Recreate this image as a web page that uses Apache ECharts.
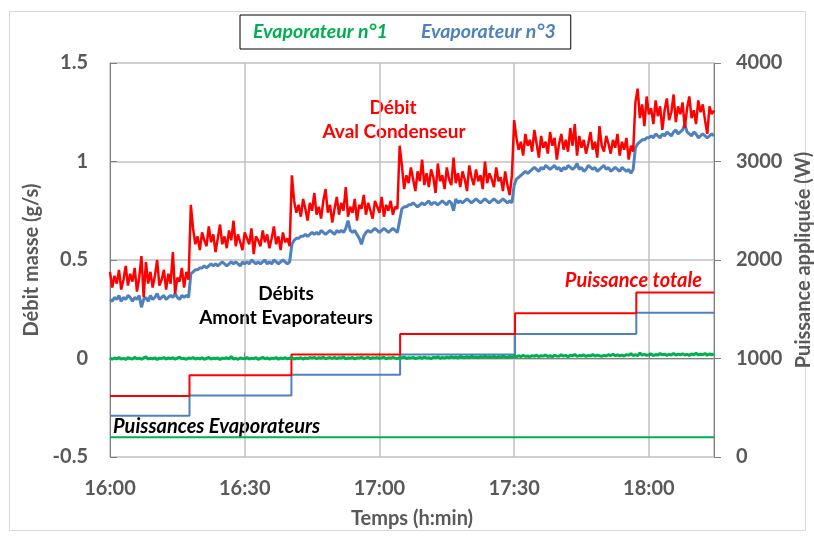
<!DOCTYPE html>
<html>
<head>
<meta charset="utf-8">
<script src="https://cdn.jsdelivr.net/npm/echarts@6/dist/echarts.min.js"></script>
<style>
  html, body { margin: 0; padding: 0; background: #fff; }
  #chart { width: 814px; height: 539px; }
</style>
</head>
<body>
<div id="chart"></div>
<script>
// Logger start and sampling period (minutes)
const startHour = 16;
const sampleStep = 0.5;

// Débit aval condenseur (g/s)
const flowCondenser = [
  0.44, 0.36, 0.42, 0.38, 0.45, 0.35, 0.40, 0.47, 0.37, 0.43,
  0.39, 0.46, 0.34, 0.41, 0.52, 0.31, 0.49, 0.38, 0.44, 0.36,
  0.42, 0.50, 0.37, 0.40, 0.45, 0.35, 0.43, 0.38, 0.54, 0.33,
  0.41, 0.39, 0.46, 0.36, 0.44, 0.40,
  0.78, 0.66, 0.58, 0.62, 0.55, 0.64, 0.60, 0.57, 0.67, 0.59,
  0.63, 0.54, 0.61, 0.68, 0.58, 0.62, 0.56, 0.65, 0.60, 0.70,
  0.57, 0.63, 0.59, 0.55, 0.64, 0.61, 0.58, 0.66, 0.53, 0.62,
  0.60, 0.57, 0.65, 0.59, 0.63, 0.56, 0.61, 0.67, 0.58, 0.62,
  0.55, 0.64, 0.59, 0.61, 0.57,
  0.93, 0.80, 0.74, 0.78, 0.72, 0.81, 0.76, 0.70, 0.79, 0.75,
  0.84, 0.73, 0.77, 0.71, 0.80, 0.86, 0.74, 0.78, 0.69, 0.76,
  0.82, 0.73, 0.79, 0.75, 0.87, 0.72, 0.77, 0.74, 0.81, 0.70,
  0.78, 0.76, 0.83, 0.73, 0.79, 0.75, 0.71, 0.80, 0.77, 0.74,
  0.82, 0.72, 0.78, 0.75, 0.80, 0.73, 0.77, 0.76,
  1.08, 0.98, 0.86, 0.93, 0.89, 0.97, 0.91, 0.85, 0.95, 0.90,
  1.01, 0.88, 0.94, 0.87, 0.96, 0.92, 0.84, 0.99, 0.90, 0.93,
  0.86, 0.97, 0.91, 0.88, 1.02, 0.89, 0.94, 0.87, 0.95, 0.91,
  0.85, 0.98, 0.92, 0.88, 0.96, 0.90, 0.93, 0.86, 1.00, 0.89,
  0.94, 0.91, 0.87, 0.97, 0.90, 0.92, 0.85, 0.95, 0.88, 0.83,
  0.93,
  1.21, 1.12, 1.06, 1.10, 1.03, 1.14, 1.08, 1.11, 1.05, 1.16,
  1.09, 1.02, 1.13, 1.07, 1.10, 1.04, 1.15, 1.08, 1.12, 1.01,
  1.09, 1.14, 1.06, 1.11, 1.05, 1.17, 1.08, 1.19, 1.03, 1.13,
  1.07, 1.11, 1.04, 1.09, 1.15, 1.06, 1.10, 1.02, 1.18, 1.08,
  1.05, 1.13, 1.09, 1.04, 1.11, 1.07, 1.14, 1.03, 1.10, 1.06,
  1.12, 1.01, 1.08, 1.05,
  1.30, 1.37, 1.22, 1.29, 1.18, 1.33, 1.24, 1.27, 1.19, 1.31,
  1.23, 1.28, 1.16, 1.26, 1.32, 1.21, 1.25, 1.34, 1.20, 1.28,
  1.24, 1.30, 1.17, 1.27, 1.33, 1.22, 1.26, 1.19, 1.31, 1.25,
  1.29, 1.21, 1.14, 1.28, 1.24, 1.26
];

// Débit amont évaporateur n°3 (g/s)
const flowEvap3 = [
  0.30, 0.29, 0.31, 0.30, 0.32, 0.29, 0.31, 0.30, 0.32, 0.31,
  0.29, 0.31, 0.30, 0.32, 0.26, 0.30, 0.31, 0.29, 0.32, 0.30,
  0.31, 0.33, 0.30, 0.31, 0.32, 0.30, 0.31, 0.32, 0.31, 0.33,
  0.31, 0.30, 0.32, 0.31, 0.32, 0.31,
  0.43, 0.44, 0.45, 0.45, 0.46, 0.46, 0.47, 0.46, 0.47, 0.48,
  0.47, 0.48, 0.47, 0.48, 0.49, 0.48, 0.47, 0.48, 0.49, 0.48,
  0.49, 0.48, 0.47, 0.49, 0.48, 0.49, 0.48, 0.50, 0.49, 0.48,
  0.49, 0.48, 0.49, 0.50, 0.48, 0.49, 0.48, 0.50, 0.49, 0.48,
  0.49, 0.50, 0.49, 0.48, 0.49,
  0.58, 0.60, 0.61, 0.61, 0.62, 0.62, 0.63, 0.62, 0.63, 0.64,
  0.63, 0.64, 0.63, 0.65, 0.64, 0.63, 0.64, 0.65, 0.64, 0.63,
  0.65, 0.64, 0.65, 0.64, 0.66, 0.70, 0.65, 0.64, 0.65, 0.63,
  0.61, 0.58, 0.62, 0.64, 0.65, 0.64, 0.65, 0.66, 0.65, 0.64,
  0.65, 0.66, 0.65, 0.64, 0.65, 0.66, 0.65, 0.64,
  0.70, 0.76, 0.77, 0.77, 0.78, 0.78, 0.79, 0.78, 0.77, 0.78,
  0.79, 0.78, 0.79, 0.80, 0.78, 0.79, 0.79, 0.78, 0.79, 0.80,
  0.79, 0.78, 0.80, 0.79, 0.75, 0.81, 0.79, 0.80, 0.79, 0.80,
  0.81, 0.80, 0.79, 0.80, 0.81, 0.80, 0.79, 0.80, 0.81, 0.80,
  0.79, 0.80, 0.81, 0.80, 0.79, 0.80, 0.81, 0.80, 0.79, 0.80,
  0.79,
  0.88, 0.91, 0.92, 0.93, 0.94, 0.95, 0.94, 0.95, 0.96, 0.97,
  0.96, 0.95, 0.97, 0.96, 0.98, 0.97, 0.96, 0.97, 0.98, 0.96,
  0.97, 0.95, 0.97, 0.96, 0.98, 0.97, 0.96, 0.97, 0.99, 0.96,
  0.97, 0.95, 0.96, 0.98, 0.97, 0.96, 0.97, 0.95, 0.96, 0.97,
  0.98, 0.96, 0.97, 0.95, 0.96, 0.97, 0.96, 0.95, 0.97, 0.96,
  0.95, 0.96, 0.94, 0.96,
  1.07, 1.09, 1.10, 1.11, 1.11, 1.12, 1.12, 1.13, 1.12, 1.14,
  1.13, 1.12, 1.14, 1.13, 1.15, 1.14, 1.13, 1.15, 1.16, 1.14,
  1.15, 1.16, 1.19, 1.15, 1.14, 1.13, 1.15, 1.14, 1.12, 1.13,
  1.14, 1.13, 1.12, 1.13, 1.14, 1.13
];

// Débit amont évaporateur n°1 (g/s)
const flowEvap1 = [
  0.002, -0.004, 0.003, -0.002, 0.005, -0.003, 0.001, -0.005, 0.004, 0.000,
  -0.003, 0.006, -0.002, 0.002, -0.004, 0.003, 0.009, -0.003, 0.001, -0.002,
  0.004, -0.005, 0.002, 0.000, 0.005, -0.003, 0.003, -0.001, 0.004, -0.004,
  0.002, 0.007, -0.002, 0.001, -0.004, 0.003, 0.000, 0.005, -0.003, 0.002,
  -0.002, 0.004, -0.004, 0.001, 0.006, -0.003, 0.002, -0.001, 0.003, -0.005,
  0.002, 0.000, 0.004, -0.002, 0.010, -0.003, 0.001, -0.004, 0.003, 0.000,
  -0.002, 0.005, -0.003, 0.002, -0.001, 0.004, -0.004, 0.001, 0.006, -0.002,
  0.003, -0.003, 0.002, 0.000, 0.005, -0.004, 0.003, -0.001, 0.004, -0.002,
  0.001, 0.006, -0.003, 0.002, 0.000, 0.004, -0.003, 0.003, -0.001, 0.005,
  0.002, 0.006, -0.001, 0.004, 0.001, 0.007, -0.002, 0.003, 0.005, 0.000,
  0.006, -0.001, 0.004, 0.002, 0.008, -0.002, 0.003, 0.001, 0.005, -0.003,
  0.004, 0.002, 0.007, 0.000, 0.003, 0.006, -0.001, 0.004, 0.002, 0.005,
  0.000, 0.003, 0.007, -0.002, 0.004, 0.001, 0.006, 0.002, -0.001, 0.005,
  0.003, 0.008, 0.000, 0.004, 0.002, 0.006, -0.001, 0.003, 0.005, 0.001,
  0.007, 0.002, 0.004, -0.001, 0.006, 0.003, 0.009, 0.001, 0.005, 0.002,
  0.007, 0.003, 0.010, 0.004, 0.008, 0.002, 0.011, 0.006, 0.004, 0.009,
  0.003, 0.012, 0.005, 0.008, 0.004, 0.010, 0.006, 0.013, 0.005, 0.009,
  0.007, 0.011, 0.004, 0.010, 0.006, 0.012, 0.008, 0.005, 0.011, 0.007,
  0.012, 0.008, 0.014, 0.009, 0.016, 0.010, 0.013, 0.007, 0.015, 0.011,
  0.017, 0.009, 0.014, 0.012, 0.018, 0.010, 0.015, 0.008, 0.016, 0.013,
  0.011, 0.019, 0.012, 0.016, 0.009, 0.017, 0.013, 0.021, 0.011, 0.015,
  0.014, 0.018, 0.010, 0.016, 0.013, 0.020, 0.012, 0.017, 0.014, 0.011,
  0.016, 0.013, 0.019, 0.015, 0.022, 0.013, 0.018, 0.014, 0.017, 0.012,
  0.020, 0.016, 0.024, 0.015, 0.019, 0.014, 0.028, 0.017, 0.021, 0.016,
  0.019, 0.023, 0.015, 0.020, 0.017, 0.025, 0.018, 0.022, 0.016, 0.021,
  0.018, 0.026, 0.017, 0.022, 0.019, 0.024, 0.018, 0.021, 0.016, 0.023,
  0.019, 0.027, 0.018, 0.022, 0.020, 0.025, 0.017, 0.023, 0.019, 0.024
];

// Applied heating power steps (minutes after 16:00, W)
const stepTimes   = [0, 17.7, 40.4, 64.6, 90.2, 117.2, 134.5];
const powerTotal  = [620, 830, 1040, 1250, 1460, 1670, 1670];
const powerEvap3  = [420, 625, 835, 1040, 1250, 1465, 1465];
const powerEvap1  = [200, 200, 200, 200, 200, 200, 200];

const timeEnd = 134.5;

const FONT = 'Lato, "Open Sans", sans-serif';
const GRAY = '#595959';
const RED = '#ff0000';
const BLUE = '#4f81bd';
const GREEN = '#00b050';

function sampled(values) {
  return values.map((v, i) => [i * sampleStep, v]);
}
function steps(values) {
  return values.map((v, i) => [stepTimes[i], v]);
}
function clock(min) {
  const total = startHour * 60 + Math.round(min);
  const h = Math.floor(total / 60);
  const m = total % 60;
  return h + ':' + (m < 10 ? '0' + m : m);
}

const chart = echarts.init(document.getElementById('chart'), null, { renderer: 'canvas' });

const tickLabel = { color: GRAY, fontFamily: FONT, fontWeight: 'bold', fontSize: 20 };
const nameStyle = { color: GRAY, fontFamily: FONT, fontWeight: 'bold', fontSize: 20 };

chart.setOption({
  animation: false,
  backgroundColor: '#fff',
  legend: {
    left: 240,
    top: 15,
    data: [
      { name: 'Evaporateur n°1', textStyle: { color: GREEN } },
      { name: 'Evaporateur n°3', textStyle: { color: BLUE } }
    ],
    icon: 'none',
    itemWidth: 0,
    itemGap: 28,
    padding: [7, 15, 7, 8],
    borderColor: '#000',
    borderWidth: 1,
    selectedMode: false,
    textStyle: { fontFamily: FONT, fontWeight: 'bold', fontStyle: 'italic', fontSize: 19.5 }
  },
  grid: {
    left: 110, top: 63, width: 604, height: 394,
    containLabel: false,
    outerBoundsMode: 'none'
  },
  xAxis: {
    type: 'value',
    min: 0,
    max: timeEnd,
    interval: 30,
    name: 'Temps (h:min)',
    nameLocation: 'middle',
    nameGap: 52,
    nameTextStyle: nameStyle,
    axisLine: { lineStyle: { color: '#808080', width: 1 } },
    axisTick: { inside: true, length: 6, lineStyle: { color: '#808080' } },
    splitLine: { show: true, lineStyle: { color: '#c0c0c0', width: 1.5 } },
    axisLabel: Object.assign({ margin: 22, showMaxLabel: false, formatter: clock }, tickLabel)
  },
  yAxis: [
    {
      type: 'value',
      min: -0.5,
      max: 1.5,
      interval: 0.5,
      name: 'Débit masse (g/s)',
      nameLocation: 'middle',
      nameRotate: 90,
      nameGap: 59,
      nameTextStyle: nameStyle,
      axisLine: { show: true, lineStyle: { color: '#808080', width: 1 } },
      axisTick: { show: true, inside: true, length: 7, lineStyle: { color: '#808080' } },
      splitLine: { show: true, lineStyle: { color: '#c0c0c0', width: 1.5 } },
      axisLabel: Object.assign({ margin: 22 }, tickLabel)
    },
    {
      type: 'value',
      min: 0,
      max: 4000,
      interval: 1000,
      position: 'right',
      name: 'Puissance appliquée (W)',
      nameLocation: 'middle',
      nameRotate: 90,
      nameGap: 72,
      nameTextStyle: nameStyle,
      axisLine: { show: true, lineStyle: { color: '#808080', width: 1 } },
      axisTick: { show: true, inside: false, length: 7, lineStyle: { color: '#808080' } },
      splitLine: { show: false },
      axisLabel: Object.assign({ margin: 22, formatter: v => String(v) }, tickLabel)
    }
  ],
  series: [
    {
      name: 'Evaporateur n°1', type: 'line', yAxisIndex: 1, step: 'end',
      data: steps(powerEvap1), showSymbol: false,
      lineStyle: { color: GREEN, width: 2 }, itemStyle: { color: GREEN }, z: 2
    },
    {
      name: 'Evaporateur n°3', type: 'line', yAxisIndex: 1, step: 'end',
      data: steps(powerEvap3), showSymbol: false,
      lineStyle: { color: BLUE, width: 2 }, itemStyle: { color: BLUE }, z: 2
    },
    {
      name: 'Puissance totale', type: 'line', yAxisIndex: 1, step: 'end',
      data: steps(powerTotal), showSymbol: false,
      lineStyle: { color: RED, width: 2 }, itemStyle: { color: RED }, z: 2
    },
    {
      name: 'Evaporateur n°1', type: 'line', yAxisIndex: 0,
      data: sampled(flowEvap1), showSymbol: false,
      lineStyle: { color: GREEN, width: 3 }, itemStyle: { color: GREEN }, z: 3
    },
    {
      name: 'Evaporateur n°3', type: 'line', yAxisIndex: 0,
      data: sampled(flowEvap3), showSymbol: false,
      lineStyle: { color: BLUE, width: 3 }, itemStyle: { color: BLUE }, z: 3
    },
    {
      name: 'Débit aval condenseur', type: 'line', yAxisIndex: 0,
      data: sampled(flowCondenser), showSymbol: false,
      lineStyle: { color: RED, width: 2.5 }, itemStyle: { color: RED }, z: 4
    }
  ],
  graphic: [
    {
      type: 'rect', silent: true, z: -10,
      shape: { x: 9.5, y: 11.5, width: 796, height: 519 },
      style: { fill: 'none', stroke: '#d9d9d9', lineWidth: 1 }
    },
    {
      type: 'text', x: 393, y: 108,
      style: { text: 'Débit', font: 'bold 19px ' + FONT, fill: RED, align: 'center', verticalAlign: 'middle' }
    },
    {
      type: 'text', x: 394, y: 132,
      style: { text: 'Aval Condenseur', font: 'bold 19px ' + FONT, fill: RED, align: 'center', verticalAlign: 'middle' }
    },
    {
      type: 'text', x: 286, y: 294,
      style: { text: 'Débits', font: 'bold 19px ' + FONT, fill: '#000', align: 'center', verticalAlign: 'middle' }
    },
    {
      type: 'text', x: 286, y: 318,
      style: { text: 'Amont Evaporateurs', font: 'bold 19px ' + FONT, fill: '#000', align: 'center', verticalAlign: 'middle' }
    },
    {
      type: 'text', x: 702, y: 281,
      style: { text: 'Puissance totale', font: 'italic bold 20px ' + FONT, fill: RED, align: 'right', verticalAlign: 'middle' }
    },
    {
      type: 'text', x: 113, y: 427,
      style: { text: 'Puissances Evaporateurs', font: 'italic bold 20px ' + FONT, fill: '#000', align: 'left', verticalAlign: 'middle' }
    }
  ]
});
</script>
</body>
</html>
